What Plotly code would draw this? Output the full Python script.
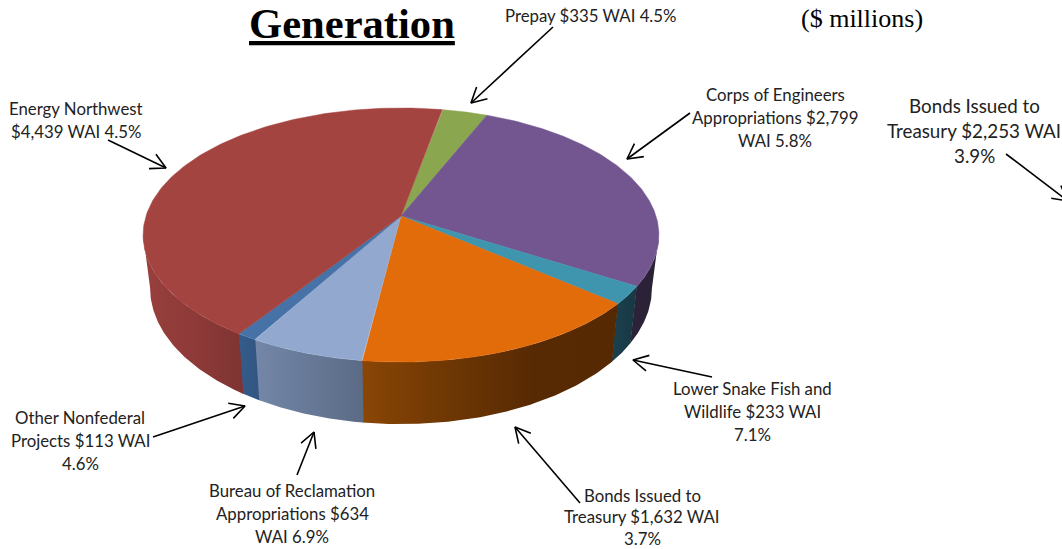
import numpy as np
import plotly.graph_objects as go

# Data, clockwise from the Prepay slice
categories = ["Prepay", "Corps of Engineers Appropriations", "Lower Snake Fish and Wildlife",
              "Bonds Issued to Treasury", "Bureau of Reclamation Appropriations",
              "Other Nonfederal Projects", "Energy Northwest"]
values = [335, 2799, 233, 1632, 634, 113, 4439]
top_colors = ["#8AA64E", "#735690", "#4095AE", "#E26B0A", "#93A8CF", "#4672A8", "#A44441"]
wall_scales = [
    ["#6A7F3C", "#6A7F3C"],
    ["#2C2339", "#2A2136"],
    ["#1B414E", "#173843"],
    ["#8A4605", "#6E3704", "#582A03", "#572903"],
    ["#7487A8", "#5B6B86"],
    ["#355C8C", "#325682"],
    ["#98403D", "#8E3A38", "#7E3432"],
]

label_lines = [
    ["Prepay $335 WAI 4.5%"],
    ["Energy Northwest", "$4,439 WAI 4.5%"],
    ["Corps of Engineers", "Appropriations $2,799", "WAI 5.8%"],
    ["Bonds Issued to", "Treasury $2,253 WAI", "3.9%"],
    ["Lower Snake Fish and", "Wildlife $233 WAI", "7.1%"],
    ["Bonds Issued to", "Treasury $1,632 WAI", "3.7%"],
    ["Bureau of Reclamation", "Appropriations $634", "WAI 6.9%"],
    ["Other Nonfederal", "Projects $113 WAI", "4.6%"],
]
label_x = [591, 76, 775, 974, 752, 642, 292, 80]
label_y = [15, 108, 94, 105, 388, 495, 490, 417]
label_size = [16.8, 16.8, 16.8, 18.8, 16.8, 16.8, 16.8, 16.8]
label_step = [23.3, 23.3, 23.3, 25.0, 23.3, 21.7, 23.3, 23.3]

arrow_from = [(553, 27), (108, 140), (690, 113), (1006, 154), (712, 377), (580, 503), (297, 475), (153, 437)]
arrow_to = [(471, 103), (166, 168), (627, 159), (1068, 201), (633, 360), (515, 427), (314, 432), (245, 406)]

# Pie geometry (perspective view of a disc, in page pixels)
start_angle = 10.7
cx, cy, A, B, k = 401.0, 216.0, 255.0, 124.2, 0.1497
x_scale, y_scale, drop = 0.973, 1.07, 51.8
wall_first, wall_last = 98.6, 261.4


def top_xy(theta_deg):
    t = np.radians(theta_deg)
    u, v = np.sin(t), np.cos(t)
    d = 1 + k * v
    return cx + A * u / d, cy - B * v / d


def bottom_xy(theta_deg):
    x, y = top_xy(theta_deg)
    return cx + x_scale * (x - cx), cy + y_scale * (y - cy) + drop


total = sum(values)
edges = start_angle + np.concatenate([[0], np.cumsum(values)]) * 360.0 / total

fig = go.Figure()

# Side walls (only the part facing the viewer), then the top faces
for i, name in enumerate(categories):
    a0, a1 = max(edges[i], wall_first), min(edges[i + 1], wall_last)
    if a1 <= a0:
        continue
    th = np.linspace(a0, a1 + 0.2, 80)
    xt, yt = top_xy(th)
    xb, yb = bottom_xy(th[::-1])
    stops = wall_scales[i]
    fig.add_trace(go.Scatter(
        x=np.concatenate([xt, xb]), y=np.concatenate([yt, yb]),
        mode="lines", fill="toself", line=dict(width=0),
        fillgradient=dict(type="horizontal",
                          colorscale=[[j / (len(stops) - 1), c] for j, c in enumerate(stops)]),
        hoverinfo="skip", showlegend=False))

for i, name in enumerate(categories):
    th = np.linspace(edges[i], edges[i + 1], 160)
    xt, yt = top_xy(th)
    fig.add_trace(go.Scatter(
        x=np.concatenate([[cx], xt, [cx]]), y=np.concatenate([[cy], yt, [cy]]),
        mode="lines", fill="toself", fillcolor=top_colors[i],
        line=dict(width=0.5, color=top_colors[i]),
        name=name, text=f"{name}: ${values[i]:,}", hoverinfo="text", showlegend=False))

# Open-headed callout arrows
head_len, head_ang = 17.0, np.radians(28)
for (x0, y0), (x1, y1) in zip(arrow_from, arrow_to):
    ang = np.arctan2(y0 - y1, x0 - x1)
    hx1, hy1 = x1 + head_len * np.cos(ang + head_ang), y1 + head_len * np.sin(ang + head_ang)
    hx2, hy2 = x1 + head_len * np.cos(ang - head_ang), y1 + head_len * np.sin(ang - head_ang)
    fig.add_trace(go.Scatter(
        x=[x0, x1, None, hx1, x1, hx2], y=[y0, y1, None, hy1, y1, hy2],
        mode="lines", line=dict(color="#000000", width=1.6),
        hoverinfo="skip", showlegend=False))

annotations = []
for lines, lx, ly, sz, step in zip(label_lines, label_x, label_y, label_size, label_step):
    for j, s in enumerate(lines):
        annotations.append(dict(x=lx, y=ly + j * step, text=s, showarrow=False,
                                xref="x", yref="y", xanchor="center", yanchor="middle",
                                font=dict(family="Lato", size=sz, color="#222222")))
annotations.append(dict(x=352, y=23, text="<b><u>Generation</u></b>", showarrow=False,
                        xref="x", yref="y", xanchor="center", yanchor="middle",
                        font=dict(family="Liberation Serif", size=42.6, color="#000000")))
annotations.append(dict(x=862, y=18, text="($ millions)", showarrow=False,
                        xref="x", yref="y", xanchor="center", yanchor="middle",
                        font=dict(family="Liberation Serif", size=26, color="#000000")))

fig.update_layout(
    width=1062, height=549, margin=dict(l=0, r=0, t=0, b=0),
    paper_bgcolor="#FFFFFF", plot_bgcolor="#FFFFFF", showlegend=False,
    xaxis=dict(range=[0, 1062], visible=False, fixedrange=True),
    yaxis=dict(range=[549, 0], visible=False, fixedrange=True),
    annotations=annotations,
)
fig.write_html("out.html", config=dict(displayModeBar=False),
               post_script="document.body.style.margin='0';document.documentElement.style.overflow='hidden';")
